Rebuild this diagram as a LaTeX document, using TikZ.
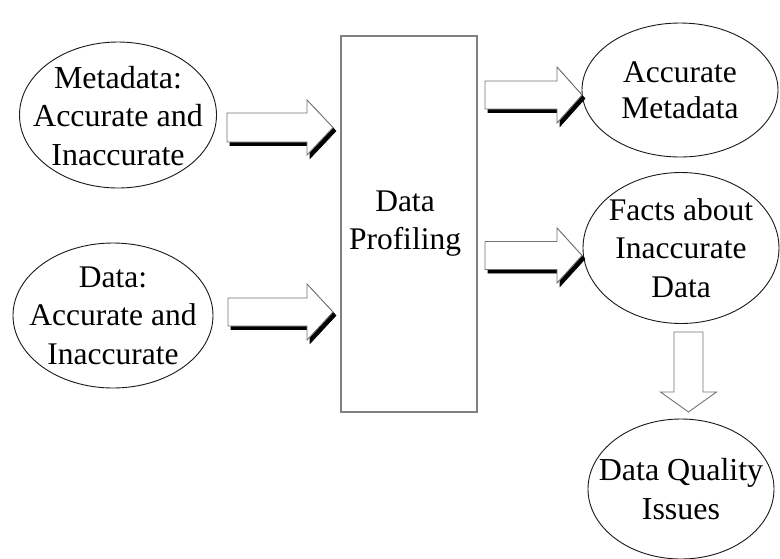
\documentclass[tikz,border=0pt]{standalone}
\usepackage{fontspec}
\setmainfont{Liberation Serif}
\usetikzlibrary{shapes.geometric,calc}

\tikzset{
  bubble/.style={ellipse, draw=black!90, line width=0.9pt, inner sep=0pt},
  stage/.style={rectangle, draw=black!50, line width=2pt, inner sep=0pt},
  label text/.style={align=center, inner sep=0pt, text=black},
  % block arrow: length, head length, half shaft width, half head width
  pics/blockarrow/.style n args={4}{code={
    \draw[pic actions] (0,-#3) -- ({#1-#2},-#3) -- ({#1-#2},-#4) -- (#1,0)
      -- ({#1-#2},#4) -- ({#1-#2},#3) -- (0,#3) -- cycle;
  }},
  arrowbody/.style={fill=white, draw=black!55, line width=0.9pt},
  arrowshadow/.style={fill=black, draw=black, line width=0.6pt},
}

\begin{document}
\begin{tikzpicture}[x=1pt,y=-1pt]
  \useasboundingbox (0,0) rectangle (780,558);

  % inputs
  \node[bubble, minimum width=197pt, minimum height=146pt] (meta) at (118,115) {};
  \node[label text, font=\fontsize{32}{38.5}\selectfont] (metatext) at (118,116)
        {Metadata:\\Accurate and\\Inaccurate};
  \node[bubble, minimum width=200pt, minimum height=145pt] (data) at (113,315.5) {};
  \node[label text, font=\fontsize{31.5}{38.5}\selectfont] (datatext) at (data.center)
        {Data:\\Accurate and\\Inaccurate};

  % profiling stage
  \node[stage, minimum width=136pt, minimum height=375.5pt] (prof) at (409,223.75) {};
  \node[label text, font=\fontsize{31.5}{38}\selectfont] (proftext) at (405,224)
        {Data\\Profiling};

  % outputs
  \node[bubble, minimum width=196pt, minimum height=134pt] (accmeta) at (680,90) {};
  \node[label text, font=\fontsize{31.5}{36}\selectfont] (accmetatext) at (accmeta.center)
        {Accurate\\Metadata};
  \node[bubble, minimum width=196pt, minimum height=151pt] (facts) at (681,248) {};
  \node[label text, font=\fontsize{31.5}{38.5}\selectfont] (factstext) at (facts.center)
        {Facts about\\Inaccurate\\Data};
  \node[bubble, minimum width=186pt, minimum height=140pt] (dq) at (681,489) {};
  \node[label text, font=\fontsize{32}{38.5}\selectfont] (dqtext) at (dq.center)
        {Data Quality\\Issues};

  % arrow tails
  \coordinate (t1) at (227,127.5);
  \coordinate (t2) at (228,312);
  \coordinate (t3) at (485,95);
  \coordinate (t4) at (485,255.5);
  \coordinate (t5) at (688.5,332);

  % shadowed block arrows
  \pic[arrowshadow] at ($(t1)+(3,3.5)$) {blockarrow={106}{26}{14.5}{27.5}};
  \pic[arrowbody]   at (t1)             {blockarrow={106}{26}{14.5}{27.5}};
  \pic[arrowshadow] at ($(t2)+(3,3.5)$) {blockarrow={105}{26}{14}{28}};
  \pic[arrowbody]   at (t2)             {blockarrow={105}{26}{14}{28}};
  \pic[arrowshadow] at ($(t3)+(3,3.5)$) {blockarrow={97}{25}{14}{28}};
  \pic[arrowbody]   at (t3)             {blockarrow={97}{25}{14}{28}};
  \pic[arrowshadow] at ($(t4)+(3,3.5)$) {blockarrow={97}{25}{14}{27.5}};
  \pic[arrowbody]   at (t4)             {blockarrow={97}{25}{14}{27.5}};

  % plain downward arrow
  \pic[arrowbody, rotate=-90] at (t5) {blockarrow={80}{20}{14.5}{28}};
\end{tikzpicture}
\end{document}
